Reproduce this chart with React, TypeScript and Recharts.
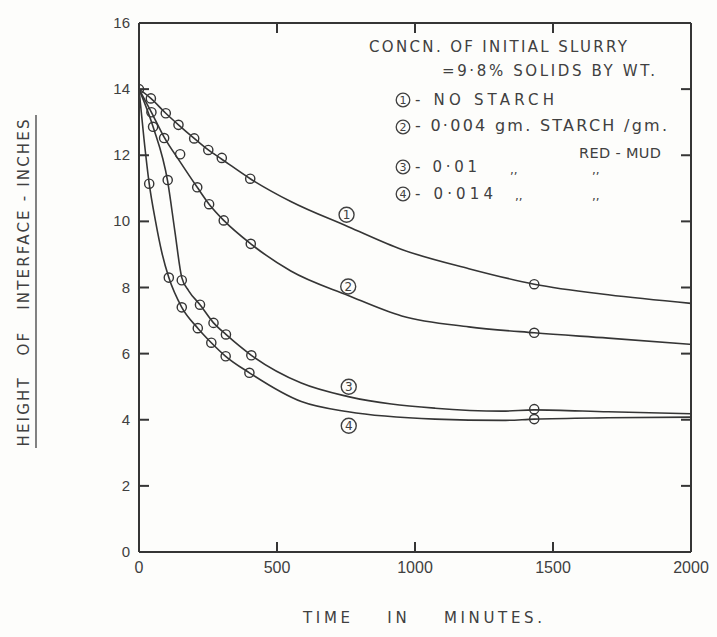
import { ComposedChart, Line, ReferenceLine, Scatter, XAxis, YAxis } from 'recharts'

// axes
const xTicks = [0, 500, 1000, 1500, 2000]
const yTicks = [0, 2, 4, 6, 8, 10, 12, 14, 16]
const innerXTicks = [500, 1000, 1500]
const innerYTicks = [2, 4, 6, 8, 10, 12, 14]

// drawn curves: t = minutes, h = inches
const curve1 = [
  { t: 0, h: 14 }, { t: 43, h: 13.72 }, { t: 97, h: 13.27 }, { t: 143, h: 12.92 }, { t: 200, h: 12.51 },
  { t: 251, h: 12.16 }, { t: 300, h: 11.88 }, { t: 403, h: 11.29 }, { t: 550, h: 10.6 }, { t: 758, h: 9.84 },
  { t: 952, h: 9.15 }, { t: 1195, h: 8.57 }, { t: 1432, h: 8.1 }, { t: 1700, h: 7.78 }, { t: 2000, h: 7.52 },
]
const curve2 = [
  { t: 0, h: 14 }, { t: 45, h: 13.3 }, { t: 91, h: 12.55 }, { t: 149, h: 11.8 }, { t: 211, h: 11.03 },
  { t: 254, h: 10.52 }, { t: 307, h: 10.03 }, { t: 405, h: 9.32 }, { t: 550, h: 8.5 }, { t: 758, h: 7.76 },
  { t: 952, h: 7.14 }, { t: 1195, h: 6.81 }, { t: 1432, h: 6.63 }, { t: 1700, h: 6.47 }, { t: 2000, h: 6.28 },
]
const curve3 = [
  { t: 0, h: 14 }, { t: 51, h: 12.86 }, { t: 104, h: 11.2 }, { t: 130, h: 9.7 }, { t: 155, h: 8.3 },
  { t: 180, h: 7.9 }, { t: 221, h: 7.48 }, { t: 270, h: 6.93 }, { t: 315, h: 6.58 }, { t: 407, h: 5.95 },
  { t: 588, h: 5.11 }, { t: 758, h: 4.7 }, { t: 1073, h: 4.35 }, { t: 1316, h: 4.26 }, { t: 1432, h: 4.3 },
  { t: 1700, h: 4.24 }, { t: 2000, h: 4.18 },
]
const curve4 = [
  { t: 0, h: 14 }, { t: 18, h: 12.5 }, { t: 37, h: 11.14 }, { t: 60, h: 10.0 }, { t: 83, h: 9.05 },
  { t: 108, h: 8.3 }, { t: 155, h: 7.4 }, { t: 213, h: 6.77 }, { t: 262, h: 6.33 }, { t: 314, h: 5.92 },
  { t: 400, h: 5.42 }, { t: 588, h: 4.55 }, { t: 758, h: 4.24 }, { t: 1073, h: 4.02 }, { t: 1316, h: 3.98 },
  { t: 1432, h: 4.02 }, { t: 1700, h: 4.06 }, { t: 2000, h: 4.08 },
]

// measured points (open circles)
const points1 = [
  { t: 0, h: 14 }, { t: 43, h: 13.72 }, { t: 97, h: 13.27 }, { t: 143, h: 12.92 }, { t: 200, h: 12.51 },
  { t: 251, h: 12.16 }, { t: 300, h: 11.92 }, { t: 403, h: 11.29 }, { t: 1432, h: 8.1 },
]
const points2 = [
  { t: 45, h: 13.3 }, { t: 91, h: 12.52 }, { t: 149, h: 12.03 }, { t: 211, h: 11.03 }, { t: 254, h: 10.52 },
  { t: 307, h: 10.03 }, { t: 405, h: 9.32 }, { t: 1432, h: 6.63 },
]
const points3 = [
  { t: 51, h: 12.86 }, { t: 104, h: 11.25 }, { t: 155, h: 8.22 }, { t: 221, h: 7.48 }, { t: 270, h: 6.93 },
  { t: 315, h: 6.58 }, { t: 407, h: 5.95 }, { t: 1432, h: 4.32 },
]
const points4 = [
  { t: 37, h: 11.14 }, { t: 108, h: 8.3 }, { t: 155, h: 7.4 }, { t: 213, h: 6.77 }, { t: 262, h: 6.33 },
  { t: 314, h: 5.92 }, { t: 400, h: 5.42 }, { t: 1432, h: 4.02 },
]

// circled curve numbers
const curveTags = [
  { t: 752, h: 10.2, n: '1' },
  { t: 758, h: 8.03, n: '2' },
  { t: 760, h: 5.0, n: '3' },
  { t: 760, h: 3.82, n: '4' },
]

// frame tick marks, inward on all four sides
const bottomMarks = innerXTicks.map((t) => ({ t, h: 0 }))
const topMarks = innerXTicks.map((t) => ({ t, h: 16 }))
const leftMarks = innerYTicks.map((h) => ({ t: 0, h }))
const rightMarks = innerYTicks.map((h) => ({ t: 2000, h }))

const ink = '#353535'
const textInk = '#404040'
const font = "'Liberation Sans', Arial, sans-serif"
const letterFont = "'DejaVu Sans', sans-serif"
const TICK = 10

const markShape = (dx: number, dy: number) => (props: any) => {
  const { cx, cy } = props
  if (cx == null || cy == null) return <g />
  return (
    <path d={`M${cx},${cy}L${cx + dx},${cy + dy}`} stroke={ink} strokeWidth={2} fill="none" />
  )
}

const OpenDot = (props: any) => {
  const { cx, cy } = props
  if (cx == null || cy == null) return null
  return <circle cx={cx} cy={cy} r={4.6} fill="none" stroke={ink} strokeWidth={1.4} />
}

const Tag = (props: any) => {
  const { cx, cy, payload } = props
  if (cx == null || cy == null) return null
  return (
    <g>
      <circle cx={cx} cy={cy} r={7.5} fill="none" stroke={textInk} strokeWidth={1.4} />
      <text x={cx} y={cy + 4.3} textAnchor="middle" fontSize={12} fontFamily={letterFont} fill={textInk}>
        {payload.n}
      </text>
    </g>
  )
}

const BottomLabel = (props: any) => {
  const { x, y, payload } = props
  return (
    <text x={x} y={y + 13} textAnchor="middle" fontSize={16} fontFamily={font} fill={textInk}>
      {payload.value}
    </text>
  )
}
const LeftLabel = (props: any) => {
  const { x, y, payload } = props
  return (
    <text x={x - 1} y={y + 5} textAnchor="end" fontSize={15} fontFamily={font} fill={textInk}>
      {payload.value}
    </text>
  )
}

const axisLine = { stroke: ink, strokeWidth: 2 }

const legendRows = [
  { cy: 100, n: '1' },
  { cy: 127, n: '2' },
  { cy: 167, n: '3' },
  { cy: 194, n: '4' },
]

export default function App() {
  return (
    <div style={{ position: 'absolute', left: 0, top: 0, width: 717, height: 637, background: '#fdfdfb', overflow: 'hidden' }}>
      <ComposedChart width={717} height={637} margin={{ top: 23, right: 26, bottom: 55, left: 99 }}>
        <XAxis
          type="number"
          dataKey="t"
          domain={[0, 2000]}
          ticks={xTicks}
          interval={0}
          allowDataOverflow
          height={30}
          tickSize={0}
          tickMargin={8}
          axisLine={axisLine}
          tickLine={false}
          tick={BottomLabel}
        />
        <YAxis
          type="number"
          dataKey="h"
          domain={[0, 16]}
          ticks={yTicks}
          interval={0}
          allowDataOverflow
          width={40}
          tickSize={0}
          tickMargin={8}
          axisLine={axisLine}
          tickLine={false}
          tick={LeftLabel}
        />

        <ReferenceLine y={16} stroke={ink} strokeWidth={2} />
        <ReferenceLine x={2000} stroke={ink} strokeWidth={2} />

        <Scatter name="bm" data={bottomMarks} dataKey="h" shape={markShape(0, -TICK)} isAnimationActive={false} />
        <Scatter name="tm" data={topMarks} dataKey="h" shape={markShape(0, TICK)} isAnimationActive={false} />
        <Scatter name="lm" data={leftMarks} dataKey="h" shape={markShape(TICK, 0)} isAnimationActive={false} />
        <Scatter name="rm" data={rightMarks} dataKey="h" shape={markShape(-TICK, 0)} isAnimationActive={false} />

        {[curve1, curve2, curve3, curve4].map((c, i) => (
          <Line
            key={`c${i}`}
            data={c}
            dataKey="h"
            type="monotone"
            stroke={ink}
            strokeWidth={1.6}
            dot={false}
            activeDot={false}
            isAnimationActive={false}
          />
        ))}
        {[points1, points2, points3, points4].map((p, i) => (
          <Scatter key={`p${i}`} data={p} dataKey="h" shape={OpenDot} isAnimationActive={false} />
        ))}
        <Scatter data={curveTags} dataKey="h" shape={Tag} isAnimationActive={false} />
      </ComposedChart>

      <svg
        width={717}
        height={637}
        style={{ position: 'absolute', left: 0, top: 0, pointerEvents: 'none' }}
        fontFamily={letterFont}
        fill={textInk}
      >
        <text x={369} y={52} fontSize={15} textLength={258} lengthAdjust="spacing">CONCN. OF INITIAL SLURRY</text>
        <text x={442} y={76} fontSize={15} textLength={213} lengthAdjust="spacing">=9·8% SOLIDS BY WT.</text>
        {legendRows.map((r) => (
          <g key={r.n}>
            <circle cx={403} cy={r.cy} r={6.8} fill="none" stroke={textInk} strokeWidth={1.3} />
            <text x={403} y={r.cy + 4} fontSize={11} textAnchor="middle">{r.n}</text>
          </g>
        ))}
        <text x={415} y={105} fontSize={15} textLength={139} lengthAdjust="spacing">- NO STARCH</text>
        <text x={415} y={131} fontSize={16} textLength={252} lengthAdjust="spacing">- 0·004 gm. STARCH /gm.</text>
        <text x={579} y={158} fontSize={14.5} textLength={82} lengthAdjust="spacing">RED - MUD</text>
        <text x={415} y={172} fontSize={15} textLength={62} lengthAdjust="spacing">- 0·01</text>
        <text x={510} y={174} fontSize={12}>,,</text>
        <text x={592} y={174} fontSize={12}>,,</text>
        <text x={415} y={199} fontSize={15} textLength={78} lengthAdjust="spacing">- 0·014</text>
        <text x={515} y={200} fontSize={12}>,,</text>
        <text x={592} y={200} fontSize={12}>,,</text>

        <text
          transform="translate(29 283) rotate(-90)"
          fontSize={15}
          textAnchor="middle"
          textLength={327}
          lengthAdjust="spacing"
          style={{ whiteSpace: 'pre' }}
        >
          HEIGHT   OF   INTERFACE - INCHES
        </text>
        <line x1={36} y1={115} x2={36} y2={448} stroke={textInk} strokeWidth={1.3} />
        <text x={303} y={623} fontSize={15} textLength={239} lengthAdjust="spacing" style={{ whiteSpace: 'pre' }}>
          TIME    IN    MINUTES.
        </text>
      </svg>
    </div>
  )
}
